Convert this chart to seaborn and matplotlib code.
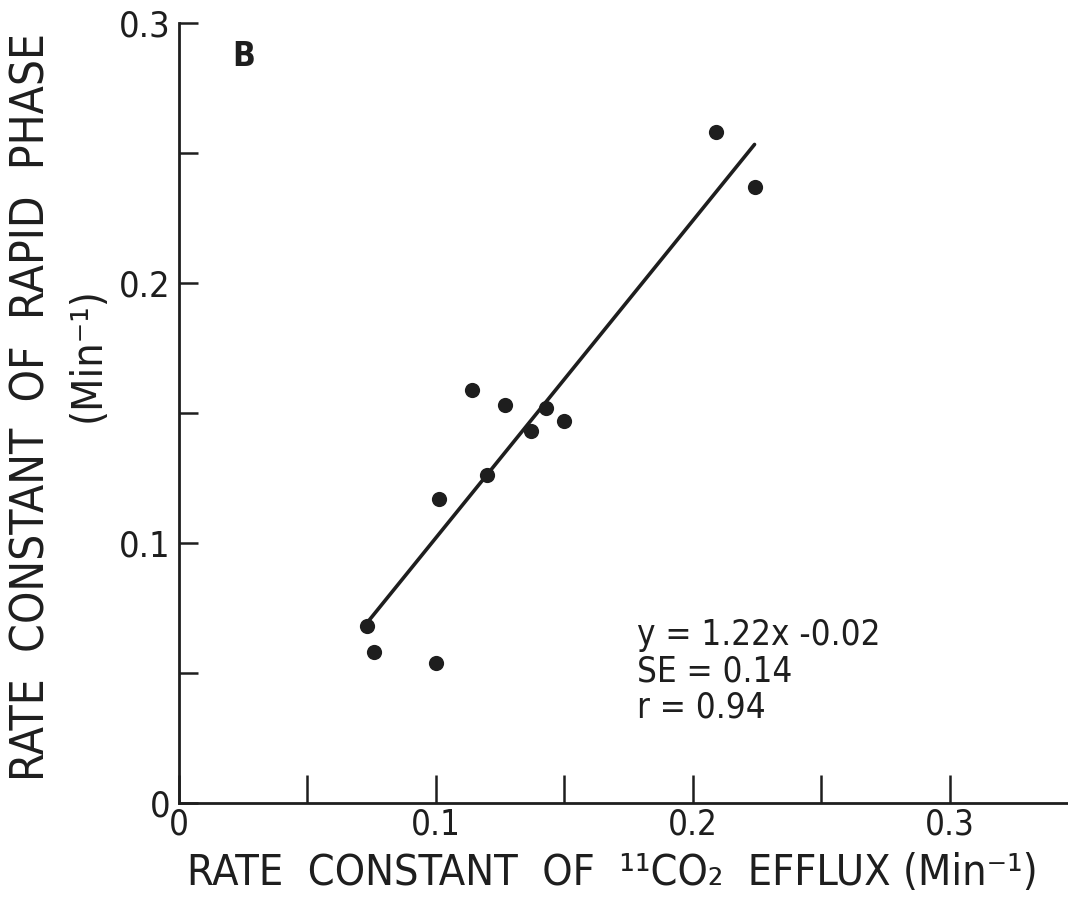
import matplotlib
matplotlib.use("Agg")
import matplotlib.pyplot as plt
import seaborn as sns
import numpy as np
import pandas as pd
from matplotlib.ticker import FixedLocator, FixedFormatter

# ---- data ----
efflux_rate = [0.073, 0.076, 0.100, 0.101, 0.114, 0.120, 0.127, 0.137, 0.143, 0.150, 0.209, 0.224]
rapid_rate  = [0.068, 0.058, 0.054, 0.117, 0.159, 0.126, 0.153, 0.143, 0.152, 0.147, 0.258, 0.237]
fit_slope = 1.22
fit_intercept = -0.02
x_tick_labels = ["0", "0.1", "0.2", "0.3"]
y_tick_labels = ["0", "0.1", "0.2", "0.3"]
stats_text = ["y = 1.22x -0.02", "SE = 0.14", "r = 0.94"]

sns.set_theme(style="white")
plt.rcParams["font.family"] = ["DejaVu Sans"]
plt.rcParams["font.stretch"] = "condensed"

ink = "#1e1e1e"
df = pd.DataFrame({"x": efflux_rate, "y": rapid_rate})
xf = np.array([min(efflux_rate), max(efflux_rate)])
fit = pd.DataFrame({"x": xf, "y": fit_slope * xf + fit_intercept})

fig = plt.figure(figsize=(10.68, 9.01), dpi=100)
ax = fig.add_axes([0.1676, 0.1088, 0.8324, 0.8657])

sns.lineplot(data=fit, x="x", y="y", ax=ax, color=ink, linewidth=2.6, zorder=2)
sns.scatterplot(data=df, x="x", y="y", ax=ax, color=ink, s=120, edgecolor=ink, linewidth=0, zorder=3)

ax.set_xlim(0, 0.346)
ax.set_ylim(0, 0.3)
for s in ["top", "right"]:
    ax.spines[s].set_visible(False)
for s in ["left", "bottom"]:
    ax.spines[s].set_color(ink)
    ax.spines[s].set_linewidth(2.0)

ax.xaxis.set_major_locator(FixedLocator([0, 0.1, 0.2, 0.3]))
ax.xaxis.set_major_formatter(FixedFormatter(x_tick_labels))
ax.yaxis.set_major_locator(FixedLocator([0, 0.1, 0.2, 0.3]))
ax.yaxis.set_major_formatter(FixedFormatter(y_tick_labels))
ax.xaxis.set_minor_locator(FixedLocator([0.05, 0.15, 0.25]))
ax.yaxis.set_minor_locator(FixedLocator([0.05, 0.15, 0.25]))

ax.tick_params(axis="x", which="both", direction="in", length=20, width=1.8, color=ink,
               labelsize=25, labelcolor=ink, pad=3, bottom=True)
ax.tick_params(axis="y", which="both", direction="in", length=14, width=1.8, color=ink,
               labelsize=26, labelcolor=ink, pad=6, left=True)
ax.set_xlabel("")
ax.set_ylabel("")

fig.text(0.573, 0.018, "RATE  CONSTANT  OF  \u00b9\u00b9CO\u2082  EFFLUX (Min\u207b\u00b9)",
         ha="center", va="baseline", fontsize=31, color=ink)
fig.text(0.030, 0.548, "RATE  CONSTANT  OF  RAPID  PHASE",
         ha="center", va="center", rotation=90, fontsize=33, color=ink)
fig.text(0.082, 0.606, "(Min\u207b\u00b9)",
         ha="center", va="center", rotation=90, fontsize=31, color=ink)

ax.text(0.06, 0.978, "B", transform=ax.transAxes, fontsize=24, fontweight="bold",
        color=ink, ha="left", va="top")

stat_y = [0.215, 0.169, 0.123]
for t, yy in zip(stats_text, stat_y):
    ax.text(0.515, yy, t, transform=ax.transAxes, fontsize=25,
            color=ink, ha="left", va="center")

fig.savefig("out.png", dpi=100, facecolor="white")
